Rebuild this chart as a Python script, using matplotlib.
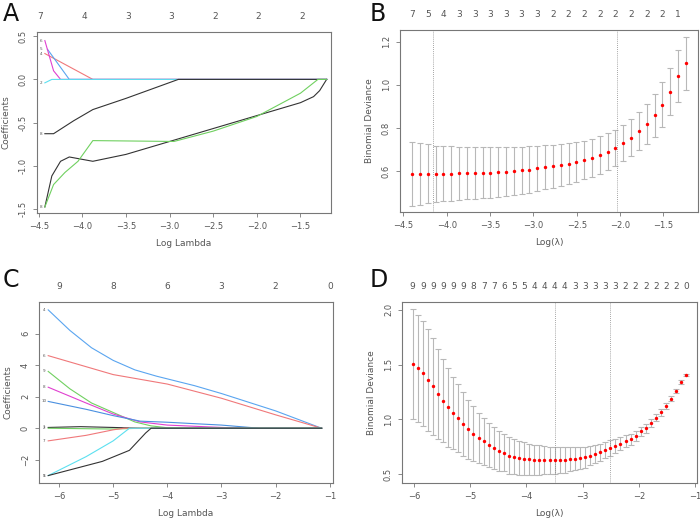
import numpy as np
import matplotlib.pyplot as plt

# ---------- data ----------
# Panel A: coefficient paths (log lambda, coefficient)
a_paths = {
    "red":     ([-4.43, -3.88, -1.2], [0.30, 0.0, 0.0]),
    "blue":    ([-4.40, -4.15, -1.2], [0.35, 0.0, 0.0]),
    "magenta": ([-4.43, -4.33, -4.25, -1.2], [0.45, 0.10, 0.0, 0.0]),
    "cyan":    ([-4.43, -4.35, -1.2], [-0.04, 0.0, 0.0]),
    "black1":  ([-4.43, -4.33, -4.1, -3.88, -3.5, -2.9, -1.2],
                [-0.63, -0.63, -0.48, -0.35, -0.22, 0.0, 0.0]),
    "black2":  ([-4.43, -4.35, -4.25, -4.15, -3.88, -3.5, -3.0, -2.5, -2.0, -1.5, -1.35, -1.28, -1.2],
                [-1.48, -1.12, -0.95, -0.90, -0.95, -0.87, -0.72, -0.57, -0.42, -0.27, -0.20, -0.13, 0.0]),
    "green":   ([-4.43, -4.33, -4.2, -4.05, -3.88, -2.95, -2.5, -2.0, -1.5, -1.3, -1.2],
                [-1.48, -1.22, -1.08, -0.95, -0.71, -0.72, -0.60, -0.43, -0.16, 0.0, 0.0]),
}
a_colors = {"red": "#f0787a", "blue": "#5aa5f0", "magenta": "#e040d0", "cyan": "#5ce0f0",
            "black1": "#333333", "black2": "#333333", "green": "#70d060"}
a_tags = {"magenta": "6", "blue": "5", "red": "4", "cyan": "2", "black1": "8", "black2": "8"}
a_top_x = [-4.48, -3.98, -3.48, -2.98, -2.48, -1.98, -1.48]
a_top_lab = ["7", "4", "3", "3", "2", "2", "2"]

# Panel B: CV deviance
b_x = np.linspace(-4.40, -1.24, 36)
b_mean = [0.585, 0.587, 0.587, 0.586, 0.587, 0.588, 0.589, 0.590, 0.591, 0.592,
          0.593, 0.595, 0.597, 0.600, 0.603, 0.607, 0.612, 0.617, 0.622, 0.627,
          0.633, 0.641, 0.651, 0.662, 0.675, 0.690, 0.708, 0.730, 0.755, 0.785,
          0.818, 0.858, 0.908, 0.968, 1.040, 1.100]
b_se = [0.148, 0.144, 0.137, 0.130, 0.128, 0.126, 0.123, 0.121, 0.120, 0.119,
        0.118, 0.115, 0.114, 0.111, 0.109, 0.107, 0.104, 0.102, 0.099, 0.097,
        0.095, 0.092, 0.089, 0.088, 0.087, 0.085, 0.084, 0.085, 0.087, 0.087,
        0.092, 0.098, 0.104, 0.109, 0.120, 0.123]
b_nz = ["7", "5", "4", "3", "3", "3", "3", "3", "3", "2", "2", "2", "2", "2", "2", "2", "2", "1"]
b_vlines = [-4.16, -2.03]

# Panel C: coefficient paths
c_paths = {
    "4":  ("#5aa5f0", [-6.2, -5.8, -5.4, -5.0, -4.6, -4.2, -3.5, -3.0, -2.0, -1.15],
           [7.5, 6.2, 5.1, 4.3, 3.7, 3.3, 2.7, 2.2, 1.1, 0.0]),
    "6":  ("#f0787a", [-6.2, -5.5, -5.0, -4.5, -4.0, -3.0, -2.0, -1.15],
           [4.6, 3.9, 3.4, 3.1, 2.8, 1.9, 0.85, 0.0]),
    "9":  ("#70d060", [-6.2, -5.8, -5.4, -5.0, -4.6, -4.3, -4.0, -3.0, -1.15],
           [3.6, 2.5, 1.6, 1.0, 0.4, 0.15, 0.03, 0.0, 0.0]),
    "8":  ("#e040d0", [-6.2, -5.5, -5.0, -4.5, -4.0, -3.0, -2.5, -1.15],
           [2.6, 1.6, 0.9, 0.4, 0.2, 0.05, 0.0, 0.0]),
    "10": ("#4a90e0", [-6.2, -5.5, -5.0, -4.5, -4.0, -3.0, -2.3, -1.15],
           [1.7, 1.2, 0.8, 0.45, 0.38, 0.2, 0.0, 0.0]),
    "1":  ("#333333", [-6.2, -5.6, -5.0, -4.5, -1.15], [0.05, 0.1, 0.05, 0.0, 0.0]),
    "2":  ("#70d060", [-6.2, -5.0, -4.5, -1.15], [0.0, -0.05, 0.0, 0.0]),
    "7":  ("#f0787a", [-6.2, -5.5, -5.0, -4.8, -1.15], [-0.8, -0.45, -0.1, 0.0, 0.0]),
    "3":  ("#5ce0f0", [-6.2, -5.5, -5.0, -4.7, -1.15], [-3.0, -1.8, -0.8, 0.0, 0.0]),
    "5":  ("#333333", [-6.2, -5.2, -4.7, -4.4, -4.3, -1.15], [-3.0, -2.1, -1.4, -0.3, 0.0, 0.0]),
}
c_top_x = [-6, -5, -4, -3, -2, -1]
c_top_lab = ["9", "8", "6", "3", "2", "0"]

# Panel D: CV deviance
d_x = np.linspace(-6.02, -1.16, 55)
d_mean = [1.505, 1.465, 1.42, 1.36, 1.30, 1.23, 1.17, 1.11, 1.06, 1.01,
          0.96, 0.91, 0.87, 0.83, 0.80, 0.77, 0.74, 0.71, 0.695, 0.67,
          0.66, 0.65, 0.64, 0.635, 0.63, 0.63, 0.628, 0.627, 0.627, 0.627,
          0.63, 0.635, 0.64, 0.645, 0.655, 0.67, 0.685, 0.70, 0.72, 0.74,
          0.755, 0.78, 0.80, 0.82, 0.85, 0.89, 0.92, 0.965, 1.015, 1.065,
          1.12, 1.19, 1.26, 1.34, 1.405]
d_se = [0.505, 0.49, 0.48, 0.465, 0.445, 0.41, 0.38, 0.36, 0.33, 0.31,
        0.29, 0.27, 0.25, 0.23, 0.215, 0.20, 0.19, 0.18, 0.17, 0.165,
        0.16, 0.155, 0.15, 0.145, 0.14, 0.135, 0.13, 0.125, 0.123, 0.12,
        0.115, 0.11, 0.105, 0.10, 0.095, 0.09, 0.085, 0.08, 0.075, 0.07,
        0.065, 0.06, 0.055, 0.05, 0.045, 0.042, 0.04, 0.037, 0.034, 0.03,
        0.027, 0.024, 0.02, 0.015, 0.01]
d_nz = ["9", "9", "9", "9", "9", "9", "8", "7", "7", "6", "5", "5", "4", "4",
        "4", "4", "3", "3", "3", "3", "3", "2", "2", "2", "2", "2", "2", "0"]
d_vlines = [-3.50, -2.51]

# ---------- figure ----------
W, H = 700, 521
fig = plt.figure(figsize=(7, 5.21), dpi=100)
TXT = "#555555"


def box(l, t, r, b):
    return fig.add_axes([l / W, 1 - b / H, (r - l) / W, (b - t) / H])


def style(ax, xlabel, ylabel):
    for s in ax.spines.values():
        s.set_color("#777777")
        s.set_linewidth(0.8)
    ax.tick_params(labelsize=6, colors="#777777", labelcolor=TXT, length=3, width=0.6)
    for lab in ax.get_yticklabels():
        lab.set_rotation(90)
        lab.set_va("center")
    ax.set_xlabel(xlabel, fontsize=6.5, color=TXT, labelpad=6)
    ax.set_ylabel(ylabel, fontsize=6.5, color=TXT, labelpad=6)


def top_labels(ax, xs, labs):
    top = ax.secondary_xaxis("top")
    top.set_xticks(xs)
    top.set_xticklabels(labs)
    top.tick_params(length=0, labelsize=6.5, labelcolor=TXT, pad=8)
    top.spines["top"].set_visible(False)


def cv_panel(ax, x, mean, se, nz, vlines):
    ax.errorbar(x, mean, yerr=se, fmt="none", ecolor="#b8b8b8", elinewidth=0.8,
                capsize=2.5, capthick=0.8)
    ax.scatter(x, mean, s=6, color="red", zorder=3, linewidths=0)
    for v in vlines:
        ax.axvline(v, color="#888888", lw=0.6, ls=(0, (1, 1.5)))
    top_labels(ax, list(x[::2]), nz)


# A
axA = box(37, 32, 331, 213)
for k, (xs, ys) in a_paths.items():
    axA.plot(xs, ys, color=a_colors[k], lw=0.8)
    if k in a_tags:
        axA.text(-4.47, ys[0], a_tags[k], fontsize=3, color=TXT, ha="center", va="center")
axA.set_xlim(-4.52, -1.15)
axA.set_ylim(-1.55, 0.55)
axA.set_xticks([-4.5, -4.0, -3.5, -3.0, -2.5, -2.0, -1.5])
axA.set_yticks([-1.5, -1.0, -0.5, 0.0, 0.5])
axA.set_yticklabels(["-1.5", "-1.0", "-0.5", "0.0", "0.5"])
style(axA, "Log Lambda", "Coefficients")
top_labels(axA, a_top_x, a_top_lab)

# B
axB = box(400, 30, 698, 212)
cv_panel(axB, b_x, b_mean, b_se, b_nz, b_vlines)
axB.set_xlim(-4.54, -1.1)
axB.set_ylim(0.41, 1.254)
axB.set_xticks([-4.5, -4.0, -3.5, -3.0, -2.5, -2.0, -1.5])
axB.set_yticks([0.6, 0.8, 1.0, 1.2])
style(axB, "Log(λ)", "Binomial Deviance")

# C
axC = box(39, 302, 333, 483)
for k, (col, xs, ys) in c_paths.items():
    axC.plot(xs, ys, color=col, lw=0.8)
    axC.text(-6.28, ys[0], k, fontsize=3, color=TXT, ha="center", va="center")
axC.set_xlim(-6.37, -0.94)
axC.set_ylim(-3.47, 8.0)
axC.set_xticks([-6, -5, -4, -3, -2, -1])
axC.set_yticks([-2, 0, 2, 4, 6])
style(axC, "Log Lambda", "Coefficients")
top_labels(axC, c_top_x, c_top_lab)

# D
axD = box(402, 302, 697, 483)
cv_panel(axD, d_x, d_mean, d_se, d_nz, d_vlines)
axD.set_xlim(-6.21, -0.97)
axD.set_ylim(0.42, 2.07)
axD.set_xticks([-6, -5, -4, -3, -2, -1])
axD.set_yticks([0.5, 1.0, 1.5, 2.0])
style(axD, "Log(λ)", "Binomial Deviance")

for lab, (px, py) in zip("ABCD", [(3, 2), (370, 2), (3, 268), (370, 268)]):
    fig.text(px / W, 1 - py / H, lab, fontsize=17, va="top", ha="left", color="#111111")

fig.savefig("out.png", dpi=100)
